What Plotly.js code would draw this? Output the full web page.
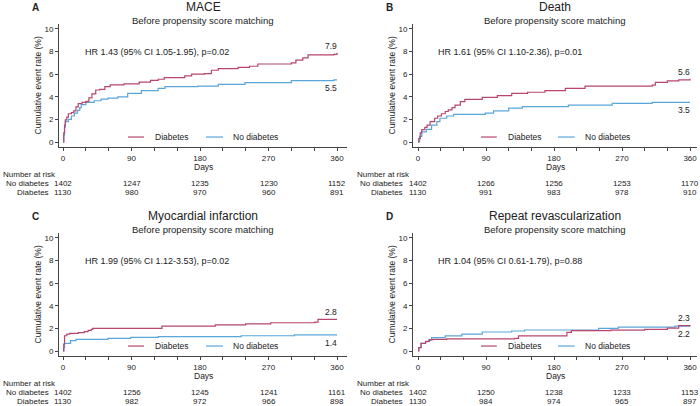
<!DOCTYPE html>
<html>
<head>
<meta charset="utf-8">
<script src="https://cdn.plot.ly/plotly-3.0.1.min.js"></script>
<style>html,body{margin:0;padding:0;background:#fff}#chart{width:700px;height:406px}</style>
</head>
<body>
<div id="chart"></div>
<script>
// ---------- Data ----------
const riskDays = [0, 90, 180, 270, 360];
const xTickVals = [0, 90, 180, 270, 360];
const yTickVals = [0, 2, 4, 6, 8, 10];

// Panel A: MACE
const aDmDays = [0,1,2,3,5,7,11,14,17,20,25,30,34,38,43,48,55,62,80,100,115,125,133,160,169,186,195,204,230,245,256,300,306,315,322,356,360];
const aDmVals = [0,0.8,1.5,1.95,2.2,2.5,2.6,2.75,3.1,3.4,3.5,3.6,3.9,4.25,4.6,4.65,4.9,5.05,5.15,5.3,5.45,5.55,5.7,5.85,6.0,6.05,6.35,6.5,6.6,6.7,6.9,7.0,7.25,7.45,7.7,7.75,7.9];
const aNoDays = [0,1,2,3,7,11,15,19,22,24,30,41,50,59,72,85,103,125,134,177,204,239,300,356,360];
const aNoVals = [0,0.6,1.3,1.8,2.0,2.3,2.55,2.8,3.05,3.3,3.5,3.65,3.8,3.88,4.0,4.3,4.55,4.75,4.9,4.95,5.1,5.25,5.43,5.5,5.5];
// Panel B: Death
const bDmDays = [0,1,3,5,9,12,16,22,26,31,36,40,45,49,56,62,85,105,124,145,168,195,221,310,314,330,345,360];
const bDmVals = [0,0.3,0.8,1.1,1.3,1.5,1.8,2.1,2.3,2.5,2.7,2.85,3.05,3.27,3.57,3.78,3.95,4.1,4.3,4.4,4.54,4.75,4.95,5.04,5.28,5.4,5.5,5.6];
const bNoDays = [0,2,5,11,18,25,29,38,47,89,100,120,138,199,257,310,360];
const bNoVals = [0,0.5,0.9,1.12,1.5,1.8,2.1,2.3,2.45,2.55,2.75,3.0,3.13,3.27,3.42,3.5,3.5];
// Panel C: Myocardial infarction
const cDmDays = [0,1,2,5,9,20,28,33,37,39,125,130,195,200,240,273,331,335,360];
const cDmVals = [0,0.6,1.35,1.5,1.56,1.62,1.72,1.82,1.92,2.0,2.0,2.2,2.2,2.32,2.4,2.5,2.55,2.8,2.8];
const cNoDays = [0,1,2,9,10,17,59,89,125,234,304,360];
const cNoVals = [0,0.3,0.68,0.7,0.92,1.03,1.12,1.2,1.27,1.35,1.42,1.42];
// Panel D: Repeat revascularization
const dDmDays = [0,1,4,10,15,20,36,38,128,133,197,203,255,300,330,345,360];
const dDmVals = [0,0.3,0.68,0.85,1.0,1.03,1.03,1.08,1.12,1.33,1.65,1.8,1.85,1.92,2.03,2.25,2.3];
const dNoDays = [0,1,4,10,14,18,36,58,85,124,141,239,265,340,360];
const dNoVals = [0,0.3,0.68,0.83,0.97,1.18,1.33,1.5,1.68,1.77,1.86,2.0,2.12,2.2,2.2];

// Number at risk
const aRiskNo = [1402,1247,1235,1230,1152], aRiskDm = [1130,980,970,960,891];
const bRiskNo = [1402,1266,1256,1253,1170], bRiskDm = [1130,991,983,978,910];
const cRiskNo = [1402,1256,1245,1241,1161], cRiskDm = [1130,982,972,966,898];
const dRiskNo = [1402,1250,1238,1233,1153], dRiskDm = [1130,984,974,965,897];

const panelLetters = ['A','B','C','D'];
const panelTitles = ['MACE','Death','Myocardial infarction','Repeat revascularization'];
const subTitle = 'Before propensity score matching';
const hrTexts = ['HR 1.43 (95% CI 1.05-1.95), p=0.02','HR 1.61 (95% CI 1.10-2.36), p=0.01','HR 1.99 (95% CI 1.12-3.53), p=0.02','HR 1.04 (95% CI 0.61-1.79), p=0.88'];
const endDm = ['7.9','5.6','2.8','2.3'];
const endNo = ['5.5','3.5','1.4','2.2'];
const seriesNames = ['Diabetes','No diabetes'];

// ---------- Style ----------
const DM_COLOR = '#b6456f';
const NO_COLOR = '#5aa5da';
const TXT = '#222222';
const FONT = 'Liberation Sans, Arial, sans-serif';
const W = 700, H = 406;

const panels = [
  {dm:[aDmDays,aDmVals], no:[aNoDays,aNoVals], rNo:aRiskNo, rDm:aRiskDm, px:[59,347], py:[24,147], xr:[-5.26,373.1], left:0, top:0},
  {dm:[bDmDays,bDmVals], no:[bNoDays,bNoVals], rNo:bRiskNo, rDm:bRiskDm, px:[413,697], py:[24,147], xr:[-6.62,369.2], left:354, top:0},
  {dm:[cDmDays,cDmVals], no:[cNoDays,cNoVals], rNo:cRiskNo, rDm:cRiskDm, px:[59,347], py:[233,356], xr:[-5.26,373.1], left:0, top:209},
  {dm:[dDmDays,dDmVals], no:[dNoDays,dNoVals], rNo:dRiskNo, rDm:dRiskDm, px:[413,697], py:[233,356], xr:[-6.62,369.2], left:354, top:209}
];

const traces = [];
const annotations = [];
const shapes = [];
const layout = {
  width: W, height: H,
  margin: {l:0, r:0, t:0, b:0},
  paper_bgcolor: '#fff', plot_bgcolor: '#fff',
  showlegend: false,
  font: {family: FONT, size: 8, color: TXT}
};

const py = v => 1 - v / H;

panels.forEach((p, i) => {
  const n = i + 1;
  const xs = n === 1 ? 'x' : 'x' + n;
  const ys = n === 1 ? 'y' : 'y' + n;
  const xk = n === 1 ? 'xaxis' : 'xaxis' + n;
  const yk = n === 1 ? 'yaxis' : 'yaxis' + n;

  layout[xk] = {
    domain: [p.px[0]/W, p.px[1]/W], anchor: ys, range: p.xr,
    tickvals: xTickVals, ticks: 'outside', ticklen: 3, tickwidth: 1, tickcolor: '#444',
    showline: true, linecolor: '#444', linewidth: 1, showgrid: false, zeroline: false,
    tickfont: {size: 8, color: TXT, family: FONT},
    minor: {dtick: 30, tick0: 0, ticks: 'outside', ticklen: 3, tickwidth: 1, tickcolor: '#444', showgrid: false},
    fixedrange: true
  };
  layout[yk] = {
    domain: [py(p.py[1]), py(p.py[0])], anchor: xs, range: [-0.442, 10.44],
    tickvals: yTickVals, ticks: 'outside', ticklen: 3, tickwidth: 1, tickcolor: '#444',
    showline: true, linecolor: '#444', linewidth: 1, showgrid: false, zeroline: false,
    tickfont: {size: 8, color: TXT, family: FONT},
    fixedrange: true
  };

  traces.push({x: p.no[0], y: p.no[1], type: 'scatter', mode: 'lines', line: {shape: 'hv', color: NO_COLOR, width: 1.2}, xaxis: xs, yaxis: ys, name: seriesNames[1], hoverinfo: 'skip'});
  traces.push({x: p.dm[0], y: p.dm[1], type: 'scatter', mode: 'lines', line: {shape: 'hv', color: DM_COLOR, width: 1.2}, xaxis: xs, yaxis: ys, name: seriesNames[0], hoverinfo: 'skip'});

  const cx = (p.px[0] + p.px[1]) / 2 / W;
  // Panel letter
  annotations.push({text: '<b>' + panelLetters[i] + '</b>', xref: 'paper', yref: 'paper', x: (p.left + 35)/W, y: py(p.top + 7), showarrow: false, font: {size: 10, color: TXT}, xanchor: 'center', yanchor: 'middle'});
  // Title
  annotations.push({text: panelTitles[i], xref: 'paper', yref: 'paper', x: cx, y: py(p.top + 7), showarrow: false, font: {size: 12, color: TXT}, xanchor: 'center', yanchor: 'middle'});
  annotations.push({text: subTitle, xref: 'paper', yref: 'paper', x: cx, y: py(p.top + 20), showarrow: false, font: {size: 9.5, color: TXT}, xanchor: 'center', yanchor: 'middle'});
  // Y title
  annotations.push({text: 'Cumulative event rate (%)', xref: 'paper', yref: 'paper', x: (p.left + 37)/W, y: py((p.py[0]+p.py[1])/2), textangle: -90, showarrow: false, font: {size: 8.5, color: TXT}, xanchor: 'center', yanchor: 'middle'});
  // X title
  annotations.push({text: 'Days', xref: 'paper', yref: 'paper', x: cx, y: py(p.py[1] + 19.5), showarrow: false, font: {size: 8.5, color: TXT}, xanchor: 'center', yanchor: 'middle'});
  // HR text
  annotations.push({text: hrTexts[i], xref: xs + ' domain', yref: ys, x: 0.082, y: 8, showarrow: false, font: {size: 9, color: TXT}, xanchor: 'left', yanchor: 'middle'});
  // End labels
  const dmLast = p.dm[1][p.dm[1].length-1], noLast = p.no[1][p.no[1].length-1];
  const dmUpper = dmLast >= noLast;
  annotations.push({text: endDm[i], xref: xs, yref: ys, x: 362, y: dmLast, showarrow: false, font: {size: 8.5, color: TXT}, xanchor: 'right', yanchor: dmUpper ? 'bottom' : 'top', yshift: dmUpper ? 0 : -1});
  annotations.push({text: endNo[i], xref: xs, yref: ys, x: 362, y: noLast, showarrow: false, font: {size: 8.5, color: TXT}, xanchor: 'right', yanchor: dmUpper ? 'top' : 'bottom', yshift: dmUpper ? -1 : 0});
  // Legend (manual)
  const lf = v => (v - 59) / 288;
  shapes.push({type: 'line', xref: xs + ' domain', yref: ys + ' domain', x0: lf(128), x1: lf(144), y0: 0.081, y1: 0.081, line: {color: DM_COLOR, width: 1.2}});
  shapes.push({type: 'line', xref: xs + ' domain', yref: ys + ' domain', x0: lf(206), x1: lf(223), y0: 0.081, y1: 0.081, line: {color: NO_COLOR, width: 1.2}});
  annotations.push({text: seriesNames[0], xref: xs + ' domain', yref: ys + ' domain', x: lf(153), y: 0.081, showarrow: false, font: {size: 8.5, color: TXT}, xanchor: 'left', yanchor: 'middle'});
  annotations.push({text: seriesNames[1], xref: xs + ' domain', yref: ys + ' domain', x: lf(231), y: 0.081, showarrow: false, font: {size: 8.5, color: TXT}, xanchor: 'left', yanchor: 'middle'});
  // Number at risk
  const r0 = p.py[1] + 27;
  annotations.push({text: 'Number at risk', xref: 'paper', yref: 'paper', x: (p.left + 0.5)/W, y: py(r0), showarrow: false, font: {size: 8, color: TXT}, xanchor: 'left', yanchor: 'middle'});
  annotations.push({text: 'No diabetes', xref: 'paper', yref: 'paper', x: (p.left + 50.5)/W, y: py(r0 + 9), showarrow: false, font: {size: 8, color: TXT}, xanchor: 'right', yanchor: 'middle'});
  annotations.push({text: 'Diabetes', xref: 'paper', yref: 'paper', x: (p.left + 50.5)/W, y: py(r0 + 18), showarrow: false, font: {size: 8, color: TXT}, xanchor: 'right', yanchor: 'middle'});
  riskDays.forEach((d, k) => {
    annotations.push({text: String(p.rNo[k]), xref: xs, yref: 'paper', x: d, y: py(r0 + 9), showarrow: false, font: {size: 8, color: TXT}, xanchor: 'center', yanchor: 'middle'});
    annotations.push({text: String(p.rDm[k]), xref: xs, yref: 'paper', x: d, y: py(r0 + 18), showarrow: false, font: {size: 8, color: TXT}, xanchor: 'center', yanchor: 'middle'});
  });
});

layout.annotations = annotations;
layout.shapes = shapes;

Plotly.newPlot('chart', traces, layout, {staticPlot: true, displayModeBar: false});
</script>
</body>
</html>
